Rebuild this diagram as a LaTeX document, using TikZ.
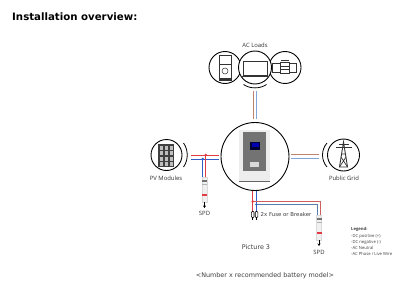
\documentclass[tikz,border=0pt]{standalone}
\usepackage{fontspec}
\setmainfont{DejaVu Sans}
\newfontfamily\labelfont{Open Sans}
\usetikzlibrary{arrows.meta}
\definecolor{wirered}{RGB}{225,60,70}
\definecolor{wireblue}{RGB}{50,95,200}
\definecolor{wiretan}{RGB}{190,130,110}
\definecolor{wiresky}{RGB}{130,165,215}
\definecolor{runred}{RGB}{205,95,95}
\definecolor{runblue}{RGB}{85,125,175}
\tikzset{
  x=1pt,y=-1pt,
  ring/.style={draw=black,line width=0.9pt,fill=white},
  bracket/.style={draw=black,line width=0.8pt},
  icon/.style={draw=black!80,line width=0.7pt},
  caption/.style={font=\labelfont\fontsize{5.9}{6}\selectfont,text=black!80,inner sep=0pt},
  note/.style={font=\fontsize{6.4}{7}\selectfont,text=black!75,inner sep=0pt},
  legendtext/.style={font=\labelfont\fontsize{4.2}{5}\selectfont,text=black!75,inner sep=0pt,anchor=west},
  dcpos/.style={draw=wirered,line width=1pt},
  dcneg/.style={draw=wireblue,line width=1pt},
  acn/.style={draw=wiresky,line width=1pt},
  acl/.style={draw=wiretan,line width=1pt},
  fuse/.style={draw=black,line width=0.6pt,fill=white,rounded corners=0.8pt,minimum width=2.6pt,minimum height=6pt,inner sep=0pt},
  spdbody/.style={draw=black!15,fill=black!6,line width=0.3pt,minimum width=5pt,inner sep=0pt},
}
\begin{document}
\begin{tikzpicture}
\useasboundingbox (0,0) rectangle (403,294);
\fill[white] (0,0) rectangle (403,294);

\node[anchor=west,inner sep=0pt,font=\bfseries\fontsize{10.2}{12}\selectfont] (title) at (12,17) {Installation overview:};

% AC loads
\node[caption] (loads) at (255,45.5) {AC Loads};
\draw[ring] (225,67.5) circle (16);
\draw[ring] (285,67.5) circle (16);
\draw[ring] (255,67.5) circle (16.5);
\draw[bracket] (243.5,84.5) .. controls (250,89) and (260,89) .. (266.5,84.5);
% fridge
\draw[icon] (219.5,55.5) rectangle (231,80);
\draw[icon] (219.5,64) -- (231,64);
\fill[black!80] (219.5,78.5) rectangle (231,80);
\draw[icon,line width=0.5pt] (225,71) circle (3);
% screen
\draw[icon,line width=0.9pt] (243,61) rectangle (267,75.5);
\draw[icon] (241,76.5) -- (269,76.5);
% stereo
\draw[icon] (272.5,63.5) rectangle (280,72.5);
\draw[icon] (289,63.5) rectangle (296.5,72.5);
\draw[icon] (280,62) rectangle (289,73);
\draw[icon] (281,61.5) -- (281,60) -- (288,60) -- (288,61.5);
\draw[icon] (280,66) -- (289,66);
\draw[icon] (280,69) -- (289,69);

% main unit
\node[circle,draw=black,line width=0.9pt,fill=white,minimum size=68pt,inner sep=0pt] (unit) at (255,156.5) {};
\fill[black!7] (239,130) rectangle (270,182);
\fill[black!55] (243,132) rectangle (265.5,171);
\fill[black!80!blue] (250,142) rectangle (260,150);
\fill[blue!70!black] (251.5,143) rectangle (258.5,147);
\fill[black!15] (250,162) rectangle (259,166.5);
\draw[black!60,line width=0.4pt] (239,181.5) -- (270,181.5);

% PV side
\node[circle,ring,minimum size=31pt,inner sep=0pt] (pv) at (166.5,155) {};
\draw[bracket] (183.5,143) .. controls (188.5,150) and (188.5,160) .. (183.5,167);
\fill[black!75] (158,144) rectangle (174,167);
\foreach \cx in {159.5,164.5,169.5}
  \foreach \cy in {145.5,151,156.5,162}
    \fill[black!25] (\cx,\cy) rectangle ++(3.5,4);
\node[caption] (pvlabel) at (166,178) {PV Modules};

% grid side
\node[circle,ring,minimum size=32pt,inner sep=0pt] (grid) at (343.5,155) {};
\draw[bracket] (327,143) .. controls (321,150) and (321,160) .. (327,167);
\draw[icon,line width=0.9pt] (339.5,167) -- (343.5,142) -- (347.5,167) -- cycle;
\draw[icon] (339.5,167) -- (346,157) (347.5,167) -- (341,157) (341.5,154) -- (345.5,154);
\draw[icon] (336,147.5) -- (351.5,147.5);
\draw[icon] (338.5,144) -- (348.5,144);
\node[caption] (gridlabel) at (344,178) {Public Grid};

% PV wiring
\coordinate (pvA) at (191,155);
\coordinate (pvB) at (191,159);
\coordinate (unitA) at (218.5,155);
\coordinate (unitB) at (218.5,159);
\coordinate (jA) at (205.7,155);
\coordinate (jB) at (202.7,159);
\draw[dcpos] (pvA) -- (unitA);
\draw[dcneg] (pvB) -- (unitB);
\draw[dcpos] (jA) -- (205.7,177);
\draw[dcneg] (jB) -- (202.7,177);
\fill[wirered] (jA) circle (1.3);
\fill[wireblue] (jB) circle (1.3);

% AC load wiring
\draw[acl] (253.5,91) -- (253.5,119);
\draw[acn] (256.5,91) -- (256.5,119);

% grid wiring
\draw[acl] (290.5,154) -- (319,154);
\draw[acn] (290.5,158) -- (319,158);

% battery wiring
\coordinate (jC) at (252.7,201.5);
\coordinate (jD) at (256.3,204.5);
\draw[dcpos] (252.7,191) -- (252.7,211);
\draw[dcneg] (256.3,191) -- (256.3,211);
\draw[draw=runred,line width=1pt] (jC) -- (320.5,201.5) -- (320.5,215);
\draw[draw=runblue,line width=1pt] (jD) -- (317.5,204.5) -- (317.5,215);
\fill[wirered] (jC) circle (1.3);
\fill[wireblue] (jD) circle (1.3);
\node[fuse] (fuseA) at (252.7,214.5) {};
\node[fuse] (fuseB) at (256.5,214.5) {};
\draw[black,line width=0.5pt] (fuseA.south) -- ++(0,1.8);
\draw[black,line width=0.5pt] (fuseB.south) -- ++(0,1.8);
\node[note,anchor=west,font=\fontsize{5.4}{6}\selectfont] (fuselabel) at (260.5,214.5) {2x Fuse or Breaker};

% surge protection devices
\foreach \sx/\sy/\nm in {204.5/177/a,319/215/b}{
  \node[spdbody,anchor=north,minimum height=25pt] (spd\nm) at (\sx,\sy) {};
  \fill[black!55] (\sx-2.5,\sy+3) rectangle (\sx+2.5,\sy+5);
  \fill[black!30] (\sx-2.5,\sy+6.5) rectangle (\sx+2.5,\sy+7.5);
  \fill[wirered] (\sx-2.5,\sy+17) rectangle (\sx+2.5,\sy+18.5);
  \draw[black,line width=0.7pt,-{Stealth[length=2.5pt,width=3pt]}] (\sx,\sy+25) -- (\sx,\sy+31);
}
\node[caption] (spdlabelA) at (204.5,213) {SPD};
\node[caption] (spdlabelB) at (319,252.5) {SPD};

\node[note] (picture) at (256,247.5) {Picture 3};
\node[note] (battery) at (265,275.5) {<Number x recommended battery model>};

% wiring legend
\node[legendtext,font=\labelfont\bfseries\fontsize{4.2}{5}\selectfont] (legendhead) at (351,229.5) {Legend:};
\node[legendtext] (l1) at (351,236.5) {-DC positive (+)};
\node[legendtext] (l2) at (351,242.5) {-DC negative (-)};
\node[legendtext] (l3) at (351,248) {-AC Neutral};
\node[legendtext] (l4) at (351,254) {-AC Phase / Live Wire};
\end{tikzpicture}
\end{document}
